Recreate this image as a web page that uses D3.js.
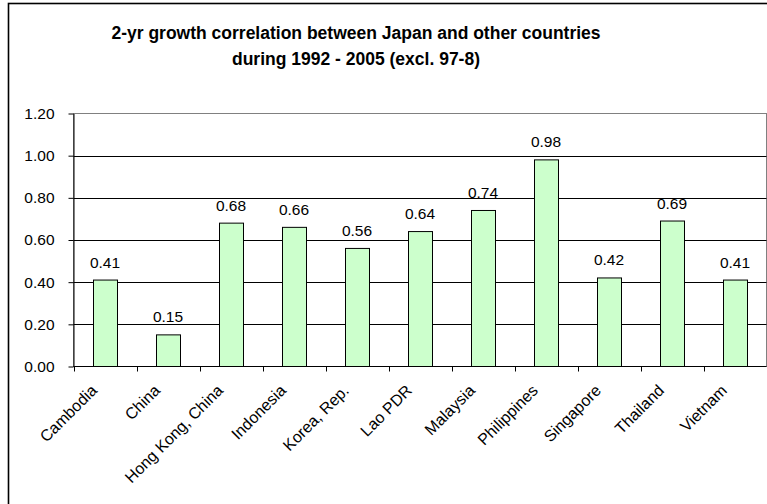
<!DOCTYPE html>
<html>
<head>
<meta charset="utf-8">
<script src="https://cdn.jsdelivr.net/npm/d3@7"></script>
<style>
  html, body { margin: 0; padding: 0; background: #fff; }
  svg { display: block; font-family: "Liberation Sans", Arial, sans-serif; }
</style>
</head>
<body>
<svg id="chart" width="767" height="504"></svg>
<script>
// Growth correlation with Japan, by country
const countries = ["Cambodia", "China", "Hong Kong, China", "Indonesia", "Korea, Rep.",
  "Lao PDR", "Malaysia", "Philippines", "Singapore", "Thailand", "Vietnam"];
const correlation = [0.41, 0.15, 0.68, 0.66, 0.56, 0.64, 0.74, 0.98, 0.42, 0.69, 0.41];
const yTicks = [0, 0.2, 0.4, 0.6, 0.8, 1.0, 1.2];
const titleLines = ["2-yr growth correlation between Japan and other countries",
  "during 1992 - 2005 (excl. 97-8)"];

const svg = d3.select("#chart");

// chart frame
svg.append("rect")
  .attr("x", 8.5).attr("y", 3.5)
  .attr("width", 800).attr("height", 520)
  .attr("fill", "#fff")
  .attr("stroke", "#000").attr("stroke-width", 1.6);

const plot = { left: 73.5, right: 766.5, top: 113.5, bottom: 366.5 };

const x = d3.scaleBand().domain(countries).range([plot.left, plot.right]).padding(0);
const y = d3.scaleLinear().domain([0, 1.2]).range([plot.bottom, plot.top]);

// title
const title = svg.append("text")
  .attr("text-anchor", "middle")
  .attr("font-weight", "bold")
  .attr("font-size", 17.5)
  .attr("fill", "#000");
titleLines.forEach((t, i) => {
  title.append("tspan").attr("x", 356).attr("y", 39 + i * 26).text(t);
});

// plot area border
svg.append("rect")
  .attr("x", plot.left).attr("y", plot.top)
  .attr("width", plot.right - plot.left).attr("height", plot.bottom - plot.top)
  .attr("fill", "none").attr("stroke", "#808080").attr("stroke-width", 1);

// gridlines
svg.append("g")
  .selectAll("line")
  .data(yTicks.filter(v => v > 0 && v < 1.2))
  .join("line")
  .attr("x1", plot.left).attr("x2", plot.right)
  .attr("y1", d => Math.round(y(d)) + 0.5).attr("y2", d => Math.round(y(d)) + 0.5)
  .attr("stroke", "#000").attr("stroke-width", 1);

// bars
const barW = 24;
svg.append("g")
  .selectAll("rect")
  .data(countries.map((c, i) => ({ c, v: correlation[i] })))
  .join("rect")
  .attr("x", d => Math.round(x(d.c) + (x.bandwidth() - barW) / 2) + 0.5)
  .attr("y", d => y(d.v))
  .attr("width", barW)
  .attr("height", d => y(0) - y(d.v))
  .attr("fill", "#ccffcc")
  .attr("stroke", "#000").attr("stroke-width", 1);

// value labels
svg.append("g")
  .selectAll("text")
  .data(countries.map((c, i) => ({ c, v: correlation[i] })))
  .join("text")
  .attr("x", d => x(d.c) + x.bandwidth() / 2)
  .attr("y", d => y(d.v) - 12.5)
  .attr("text-anchor", "middle")
  .attr("font-size", 15.5)
  .attr("fill", "#000")
  .text(d => d3.format(".2f")(d.v));

// y axis
const yAxis = svg.append("g")
  .attr("transform", `translate(${plot.left},0)`)
  .call(d3.axisLeft(y).tickValues(yTicks).tickSize(5).tickSizeOuter(0).tickPadding(14)
    .tickFormat(d3.format(".2f")));
yAxis.select(".domain").attr("stroke", "#000");
yAxis.selectAll(".tick line").attr("stroke", "#000");
yAxis.selectAll(".tick text")
  .attr("font-family", "'Liberation Sans', Arial, sans-serif")
  .attr("font-size", 15.5).attr("fill", "#000");

// x axis: ticks at category boundaries
const xAxis = svg.append("g").attr("transform", `translate(0,${plot.bottom})`);
xAxis.append("line")
  .attr("x1", plot.left).attr("x2", plot.right)
  .attr("stroke", "#000");
xAxis.selectAll("line.tick")
  .data(countries.map(c => x(c)).concat([plot.right]))
  .join("line")
  .attr("class", "tick")
  .attr("x1", d => Math.round(d) + 0.5).attr("x2", d => Math.round(d) + 0.5)
  .attr("y1", 0).attr("y2", 5)
  .attr("stroke", "#000");
xAxis.selectAll("text")
  .data(countries)
  .join("text")
  .attr("transform", d => `translate(${x(d) + x.bandwidth() / 2 - 7},${25}) rotate(-45)`)
  .attr("text-anchor", "end")
  .attr("font-size", 16)
  .attr("fill", "#000")
  .text(d => d);
</script>
</body>
</html>
